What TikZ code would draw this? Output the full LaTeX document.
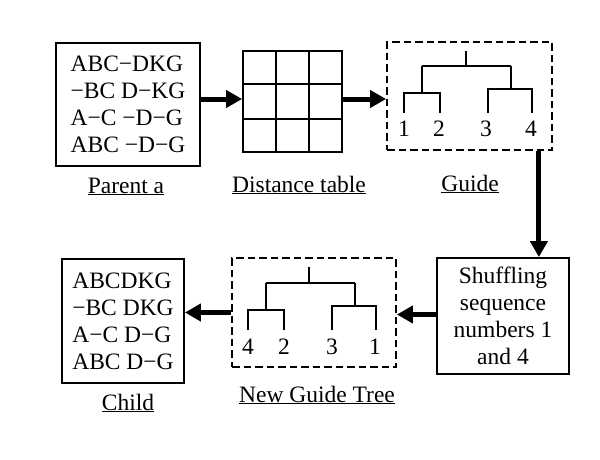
\documentclass[tikz,border=0pt]{standalone}
\usepackage{fontspec}
\setmainfont{Liberation Serif}
\usetikzlibrary{arrows.meta,calc}
\begin{document}
\begin{tikzpicture}[x=1pt,y=-1pt,
  txt/.style={font=\fontsize{23.5}{27}\selectfont},
  box/.style={draw, line width=1.8pt, inner sep=0pt, txt},
  dbox/.style={draw, line width=1.8pt, dash pattern=on 7.5pt off 4pt, inner sep=0pt},
  treeline/.style={line width=1.8pt},
  leaf/.style={txt, inner sep=0pt},
  flow/.style={line width=5pt, -{Triangle[length=16pt,width=17pt]}},
  caption/.style={txt, anchor=base, inner sep=0pt}
]
\useasboundingbox (0,0) rectangle (600,459);

% Parent box
\node[box, minimum width=144pt, minimum height=123pt, align=left] (parent) at (128,104.5)
  {ABC−DKG\\−BC D−KG\\A−C −D−G\\ABC −D−G};
\node[caption] (parentlbl) at (126,193) {\underline{Parent a}};

% Distance table
\node[draw, line width=1.8pt, minimum width=99pt, minimum height=101pt, inner sep=0pt] (table) at (292.5,101.5) {};
\draw[line width=1.8pt]
  ($(table.north west)!1/3!(table.north east)$) -- ($(table.south west)!1/3!(table.south east)$)
  ($(table.north west)!2/3!(table.north east)$) -- ($(table.south west)!2/3!(table.south east)$)
  ($(table.north west)!1/3!(table.south west)$) -- ($(table.north east)!1/3!(table.south east)$)
  ($(table.north west)!2/3!(table.south west)$) -- ($(table.north east)!2/3!(table.south east)$);
\node[caption] (tablelbl) at (299,192) {\underline{Distance table}};

% Guide
\node[dbox, minimum width=165pt, minimum height=108pt] (guide) at (469.5,96) {};
\draw[treeline] (466,51) -- (466,66)
  (422,66) -- (511,66)
  (422,66) -- (422,93)
  (404,113) -- (404,93) -- (440,93) -- (440,113)
  (511,66) -- (511,89)
  (488,113) -- (488,89) -- (532,89) -- (532,113);
\node[leaf] (g1) at (404,129) {1};
\node[leaf] (g2) at (439,129) {2};
\node[leaf] (g3) at (486,129) {3};
\node[leaf] (g4) at (531,129) {4};
\node[caption] (guidelbl) at (470,191) {\underline{Guide}};

% Shuffling box
\node[box, minimum width=132pt, minimum height=116pt, align=center] (shuffle) at (503,316)
  {Shuffling\\sequence\\numbers 1\\and 4};

% New guide tree
\node[dbox, minimum width=164pt, minimum height=109pt] (newguide) at (314,312.5) {};
\draw[treeline] (309,267) -- (309,283)
  (266,283) -- (355,283)
  (266,283) -- (266,310)
  (248,330) -- (248,310) -- (284,310) -- (284,330)
  (355,283) -- (355,306)
  (332,330) -- (332,306) -- (376,306) -- (376,330);
\node[leaf] (n4) at (248,347) {4};
\node[leaf] (n2) at (284,347) {2};
\node[leaf] (n3) at (332,347) {3};
\node[leaf] (n1) at (375,347) {1};
\node[caption] (newguidelbl) at (317,402) {\underline{New Guide Tree}};

% Child box
\node[box, minimum width=122pt, minimum height=124pt, align=left] (child) at (123,321)
  {ABCDKG\\−BC DKG\\A−C D−G\\ABC D−G};
\node[caption] (childlbl) at (128,410) {\underline{Child}};

% Connectors
\draw[flow] ([yshift=5.5pt]parent.east) coordinate (a1) -- (a1 -| table.west);
\draw[flow] ([yshift=2.5pt]table.east) coordinate (a2) -- (a2 -| guide.west);
\draw[flow] ([xshift=-14pt]guide.south east) coordinate (a3) -- (a3 |- shuffle.north);
\draw[flow] ([yshift=1.5pt]shuffle.west) coordinate (a4) -- (a4 -| newguide.east);
\draw[flow] (newguide.west) -- (newguide.west -| child.east);
\end{tikzpicture}
\end{document}
